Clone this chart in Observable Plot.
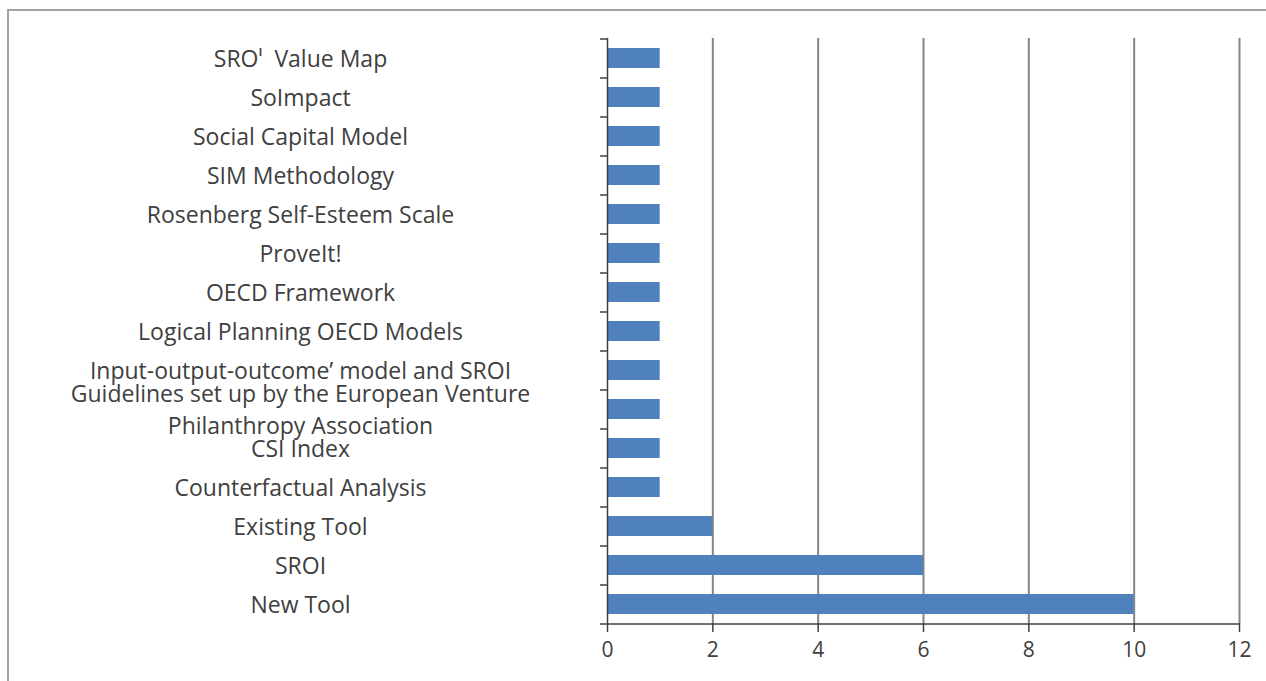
<!DOCTYPE html>
<html>
<head>
<meta charset="utf-8">
<script src="https://cdn.jsdelivr.net/npm/d3@7"></script>
<script src="https://cdn.jsdelivr.net/npm/@observablehq/plot@0.6"></script>
<style>
  html, body { margin: 0; padding: 0; background: #fff; overflow: hidden; }
  #wrap { position: relative; width: 1266px; height: 681px; }
  #border { position: absolute; left: 7px; top: 9px; width: 1300px; height: 700px;
            border-left: 2px solid #a3a3a3; border-top: 2px solid #a3a3a3; }
  #chart { position: absolute; left: 0; top: 0; }
</style>
</head>
<body>
<div id="wrap"><div id="border"></div><div id="chart"></div></div>
<script>
// Tools used to measure social impact, and how many times each appears
const tools = [
  "SRO\u1D35\u00A0 Value Map",
  "SoImpact",
  "Social Capital Model",
  "SIM Methodology",
  "Rosenberg Self-Esteem Scale",
  "ProveIt!",
  "OECD Framework",
  "Logical Planning OECD Models",
  "Input-output-outcome\u2019 model and SROI",
  "Guidelines set up by the European Venture\nPhilanthropy Association",
  "CSI Index",
  "Counterfactual Analysis",
  "Existing Tool",
  "SROI",
  "New Tool"
];
const counts = [1, 1, 1, 1, 1, 1, 1, 1, 1, 1, 1, 1, 2, 6, 10];
const xTicks = [0, 2, 4, 6, 8, 10, 12];
const gridValues = [2, 4, 6, 8, 10, 12];

const data = tools.map((tool, i) => ({tool, count: counts[i]}));

const W = 1266, H = 681;
const mTop = 38, mBottom = 58, mLeft = 607, mRight = 27;
const step = (H - mTop - mBottom) / tools.length;
const font = "'Open Sans', Lato, sans-serif";
const fs = 23;
const ink = "#404040";

const chart = Plot.plot({
  width: W,
  height: H,
  marginTop: mTop,
  marginBottom: mBottom,
  marginLeft: mLeft,
  marginRight: mRight,
  style: {fontFamily: font, fontSize: fs + "px", background: "transparent", color: ink},
  x: {domain: [0, 12], axis: null},
  y: {type: "band", domain: tools, paddingInner: 0.5, paddingOuter: 0.25, axis: null},
  marks: [
    Plot.ruleX(gridValues, {stroke: "#858585", strokeWidth: 2}),
    Plot.barX(data, {x: "count", y: "tool", fill: "#4f81bd"}),
    Plot.ruleX([0], {stroke: ink, strokeWidth: 1.5}),
    // category boundary ticks on the left axis
    Plot.ruleY(tools, {y: d => d, dy: -step / 2, x1: 0, x2: 0, insetLeft: -7, stroke: ink, strokeWidth: 1.5}),
    Plot.ruleY([tools[tools.length - 1]], {y: d => d, dy: step / 2, x1: 0, x2: 12, insetLeft: -7, stroke: ink, strokeWidth: 1.5}),
    Plot.axisY({
      tickSize: 0, tickPadding: 0, textAnchor: "middle", dx: 300 - mLeft, dy: -2,
      fontSize: fs, color: ink, lineHeight: 1.4, label: null
    }),
    Plot.axisX({
      ticks: xTicks, tickSize: 9, tickPadding: 10, fontSize: 21, color: ink,
      strokeWidth: 1.5, label: null, tickFormat: d => String(d)
    })
  ]
});
document.getElementById("chart").append(chart);
</script>
</body>
</html>
